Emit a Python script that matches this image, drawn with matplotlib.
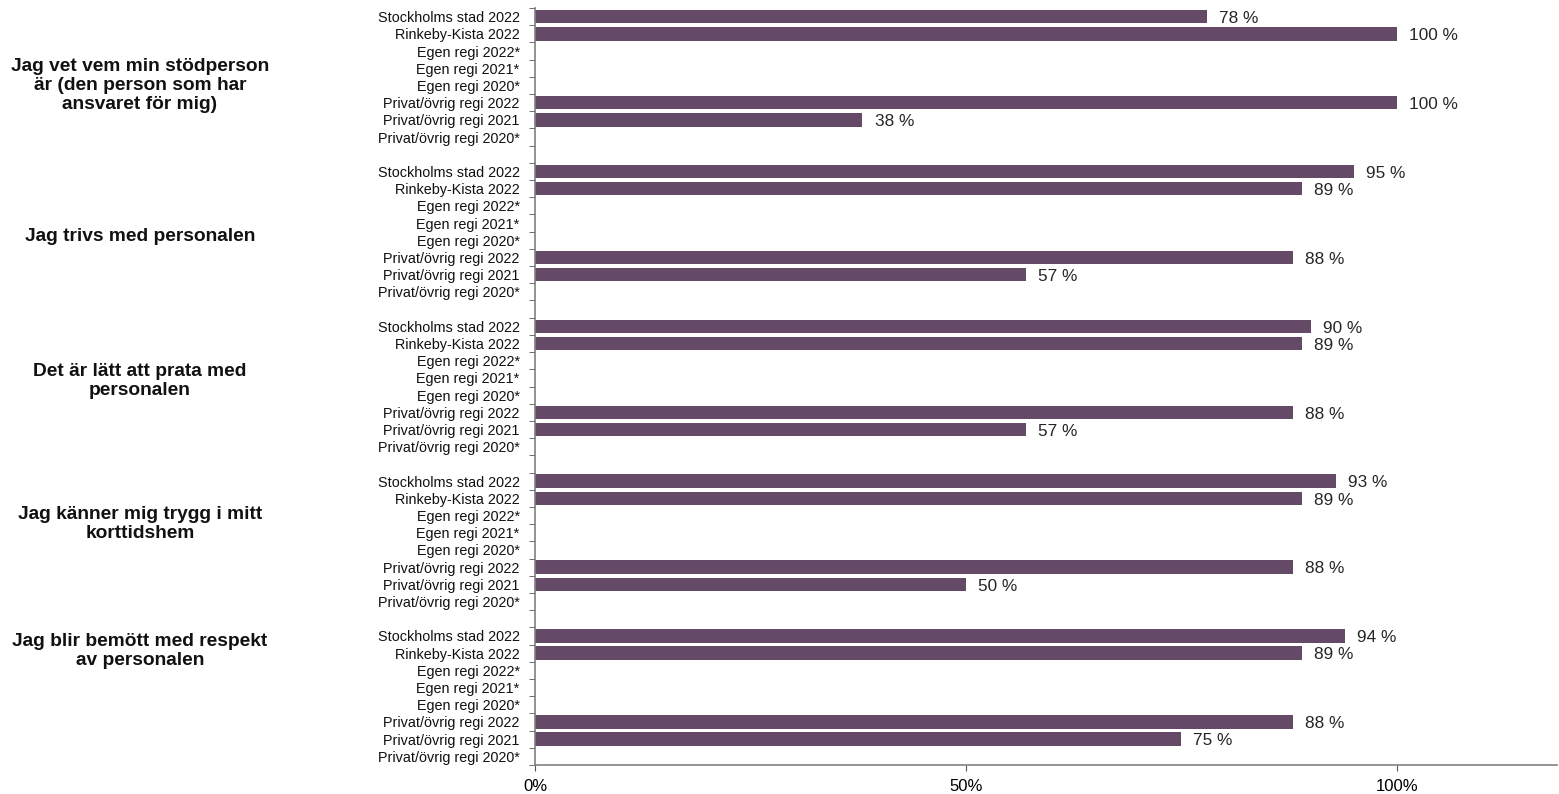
import matplotlib.pyplot as plt
import matplotlib.transforms as mtransforms
import numpy as np

plt.rcParams['font.family'] = ['Liberation Sans', 'DejaVu Sans']

questions = [
    "Jag vet vem min stödperson\när (den person som har\nansvaret för mig)",
    "Jag trivs med personalen",
    "Det är lätt att prata med\npersonalen",
    "Jag känner mig trygg i mitt\nkorttidshem",
    "Jag blir bemött med respekt\nav personalen",
]
row_labels = [
    "Stockholms stad 2022",
    "Rinkeby-Kista 2022",
    "Egen regi 2022*",
    "Egen regi 2021*",
    "Egen regi 2020*",
    "Privat/övrig regi 2022",
    "Privat/övrig regi 2021",
    "Privat/övrig regi 2020*",
]
# None = no data shown (too few answers)
values = [
    [78, 100, None, None, None, 100, 38, None],
    [95, 89, None, None, None, 88, 57, None],
    [90, 89, None, None, None, 88, 57, None],
    [93, 89, None, None, None, 88, 50, None],
    [94, 89, None, None, None, 88, 75, None],
]
# where the question text sits (row units)
title_rows = [4.0, 12.8, 21.2, 29.5, 36.9]

bar_color = "#654a67"
n_rows = len(row_labels)
step = n_rows + 1  # one empty row between groups
n_slots = len(questions) * step - 1

fig = plt.figure(figsize=(15.59, 7.94), dpi=100)
ax = fig.add_axes([535 / 1559, 1 - 765 / 794, 1022 / 1559, 757 / 794])

ypos, ylabels = [], []
for g, grp in enumerate(values):
    for r, v in enumerate(grp):
        y = g * step + r
        ypos.append(y)
        ylabels.append(row_labels[r])
        if v is None:
            continue
        ax.barh(y, v, height=0.78, color=bar_color)
        ax.text(v + 1.4, y + 0.1, f"{v} %", va="center", ha="left", fontsize=12.4, color="#262626")

ax.set_ylim(n_slots - 0.5, -0.5)
ax.set_xlim(0, 118.6)
ax.set_yticks(ypos)
ax.set_yticklabels(ylabels, fontsize=10.4, color="#111111")
ax.set_yticks(np.arange(-0.5, n_slots, 1), minor=True)
ax.tick_params(axis="y", which="major", length=0, pad=11)
ax.tick_params(axis="y", which="minor", length=4, color="#555555")
ax.set_xticks([0, 50, 100])
ax.set_xticklabels(["0%", "50%", "100%"], fontsize=12)
ax.tick_params(axis="x", length=4, color="#555555", pad=6)

for side in ["top", "right"]:
    ax.spines[side].set_visible(False)
for side in ["left", "bottom"]:
    ax.spines[side].set_color("#808080")
    ax.spines[side].set_linewidth(1.2)

trans = mtransforms.blended_transform_factory(fig.transFigure, ax.transData)
for q, ty in zip(questions, title_rows):
    ax.text(140 / 1559, ty, q, transform=trans, ha="center", va="center",
            fontsize=13.8, fontweight="bold", linespacing=1.15, color="#111111")

fig.savefig("out.png", dpi=100)
